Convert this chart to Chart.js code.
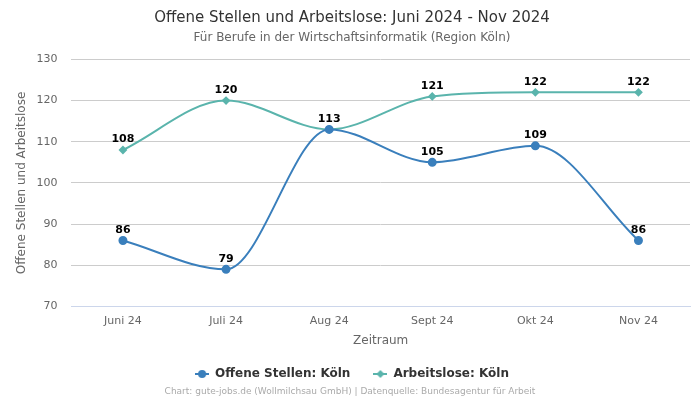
<!DOCTYPE html>
<html>
<head>
<meta charset="utf-8">
<script src="https://cdn.jsdelivr.net/npm/chart.js@4"></script>
<style>
  html, body { margin: 0; padding: 0; background: #fff; }
  #wrap { width: 700px; height: 400px; position: relative; }
</style>
</head>
<body>
<div id="wrap"><canvas id="chart"></canvas></div>
<script>
const months = ["Juni 24", "Juli 24", "Aug 24", "Sept 24", "Okt 24", "Nov 24"];
const offeneStellen = [86, 79, 113, 105, 109, 86];
const arbeitslose = [108, 120, 113, 121, 122, 122];
const blue = "#3a7fbc";
const teal = "#5ab4ac";

// legend symbol: a short line with the marker in the middle
function legendIcon(color, diamond) {
  const c = document.createElement("canvas");
  c.width = 14; c.height = 10;
  const g = c.getContext("2d");
  g.strokeStyle = color;
  g.fillStyle = color;
  g.lineWidth = 2;
  g.beginPath(); g.moveTo(0, 5); g.lineTo(14, 5); g.stroke();
  g.beginPath();
  if (diamond) {
    g.moveTo(7, 1); g.lineTo(11, 5); g.lineTo(7, 9); g.lineTo(3, 5); g.closePath();
  } else {
    g.arc(7, 5, 4, 0, Math.PI * 2);
  }
  g.fill();
  return c;
}

// writes the value above every point (once per spot)
const valueLabels = {
  id: "valueLabels",
  afterDatasetsDraw(chart) {
    const ctx = chart.ctx;
    const done = {};
    ctx.save();
    ctx.font = "bold 11px 'DejaVu Sans'";
    ctx.fillStyle = "#000";
    ctx.textAlign = "center";
    ctx.textBaseline = "bottom";
    chart.data.datasets.forEach((ds, i) => {
      const meta = chart.getDatasetMeta(i);
      meta.data.forEach((pt, j) => {
        const key = j + "_" + ds.data[j];
        if (done[key]) return;
        done[key] = true;
        ctx.fillText(ds.data[j], pt.x, pt.y - 5);
      });
    });
    ctx.restore();
  }
};

// footer line under the legend
const footer = {
  id: "footer",
  afterDraw(chart) {
    const ctx = chart.ctx;
    ctx.save();
    ctx.font = "9px 'DejaVu Sans'";
    ctx.fillStyle = "#aaaaaa";
    ctx.textAlign = "center";
    ctx.textBaseline = "middle";
    ctx.fillText("Chart: gute-jobs.de (Wollmilchsau GmbH) | Datenquelle: Bundesagentur für Arbeit", chart.width / 2, 392);
    ctx.restore();
  }
};

new Chart(document.getElementById("chart"), {
  type: "line",
  data: {
    labels: months,
    datasets: [{
      label: "Offene Stellen: Köln",
      data: offeneStellen,
      borderColor: blue,
      backgroundColor: blue,
      pointStyle: "circle",
      pointRadius: 3.5,
      borderWidth: 2,
      cubicInterpolationMode: "monotone"
    }, {
      label: "Arbeitslose: Köln",
      data: arbeitslose,
      borderColor: teal,
      backgroundColor: teal,
      pointStyle: "rectRot",
      pointRadius: 3,
      borderWidth: 2,
      cubicInterpolationMode: "monotone"
    }]
  },
  options: {
    responsive: true,
    maintainAspectRatio: false,
    animation: false,
    layout: { padding: { left: 14, right: 10, top: 0, bottom: 10 } },
    plugins: {
      title: {
        display: true,
        text: "Offene Stellen und Arbeitslose: Juni 2024 - Nov 2024",
        color: "#333",
        font: { family: "'DejaVu Sans'", size: 15, weight: "normal" },
        padding: { top: 9, bottom: 4 }
      },
      subtitle: {
        display: true,
        text: "Für Berufe in der Wirtschaftsinformatik (Region Köln)",
        color: "#666",
        font: { family: "'DejaVu Sans'", size: 12 },
        padding: { bottom: 14 }
      },
      legend: {
        position: "bottom",
        labels: {
          usePointStyle: true,
          pointStyleWidth: 14,
          generateLabels(chart) {
            return chart.data.datasets.map((ds, i) => ({
              text: ds.label,
              pointStyle: legendIcon(ds.borderColor, i === 1),
              fillStyle: ds.borderColor,
              strokeStyle: ds.borderColor,
              fontColor: "#333",
              lineWidth: 0,
              hidden: false,
              datasetIndex: i
            }));
          },
          color: "#333",
          padding: 23,
          font: { family: "'DejaVu Sans'", size: 12, weight: "bold" }
        }
      },
      tooltip: { enabled: false }
    },
    scales: {
      x: {
        offset: true,
        grid: { display: false, drawTicks: false },
        border: { color: "#ccd6eb" },
        ticks: { color: "#666", font: { family: "'DejaVu Sans'", size: 11 }, padding: 8 },
        title: {
          display: true,
          text: "Zeitraum",
          color: "#666",
          font: { family: "'DejaVu Sans'", size: 12 },
          padding: { top: -2, bottom: -3 }
        }
      },
      y: {
        min: 70,
        max: 130,
        ticks: { stepSize: 10, color: "#666", font: { family: "'DejaVu Sans'", size: 11 }, padding: 14 },
        grid: { color: "#cccccc", drawTicks: false },
        border: { display: false },
        title: {
          display: true,
          text: "Offene Stellen und Arbeitslose",
          color: "#666",
          font: { family: "'DejaVu Sans'", size: 12 },
          padding: { top: 1, bottom: -7 }
        }
      }
    }
  },
  plugins: [valueLabels, footer]
});
</script>
</body>
</html>
